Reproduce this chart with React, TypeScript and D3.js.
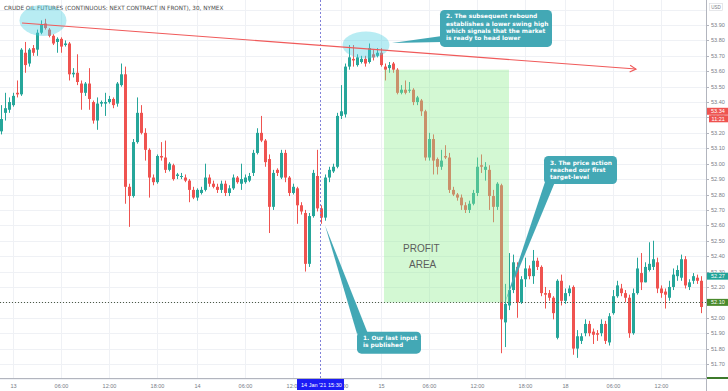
import React, { useEffect } from 'react';
import * as d3 from 'd3';

const W = 728;
const H = 391;

// 30-minute candles
const OPEN = [53.21,53.33,53.35,53.38,53.46,53.45,53.72,53.65,53.75,53.74,53.85,53.91,53.87,53.83,53.79,53.81,53.77,53.78,53.58,53.59,
53.52,53.46,53.52,53.40,53.28,53.39,53.39,53.40,53.42,53.39,53.51,53.58,52.85,52.79,53.14,53.33,53.20,53.09,52.91,52.88,
53.05,53.04,52.96,52.99,52.92,52.92,52.91,52.89,52.83,52.78,52.81,52.83,52.91,52.87,52.85,52.83,52.87,52.81,52.84,52.91,
52.87,52.88,52.89,52.94,53.07,53.20,53.15,53.03,52.72,52.96,52.91,53.07,52.91,52.81,52.84,52.73,52.68,52.35,52.66,52.92,
52.71,52.65,52.91,52.95,52.98,53.31,53.32,53.63,53.68,53.64,53.66,53.68,53.66,53.71,53.70,53.72,53.63,53.62,53.65,53.61,
53.46,53.48,53.48,53.48,53.40,53.41,53.34,53.04,53.16,53.03,52.98,53.05,53.04,52.83,52.80,52.78,52.73,52.70,52.74,52.81,
52.99,52.96,52.96,52.79,52.72,52.86,51.97,52.08,52.18,52.33,52.10,52.25,52.32,52.27,52.37,52.33,52.16,52.16,52.13,51.87,
52.24,52.11,52.16,52.20,51.80,51.85,51.90,51.96,51.91,51.90,51.90,51.96,51.84,52.03,52.14,52.19,52.16,52.13,51.90,52.16,
52.29,52.23,52.31,52.33,52.36,52.19,52.17,52.13,52.20,52.27,52.26,52.38,52.20,52.24,52.26,52.24];
const HIGH = [53.38,53.46,53.43,53.46,53.54,53.75,53.79,53.75,53.77,53.87,53.93,53.94,53.88,53.84,53.82,53.82,53.80,53.79,53.62,53.71,
53.54,53.53,53.62,53.41,53.43,53.41,53.46,53.44,53.43,53.53,53.65,53.63,52.87,53.16,53.43,53.38,53.23,53.10,52.93,53.06,
53.14,53.15,53.01,53.00,52.94,52.94,52.93,52.90,52.85,52.84,52.85,53.00,52.93,52.89,52.87,52.89,52.89,52.86,52.93,52.92,
53.00,52.93,52.94,53.09,53.23,53.31,53.16,53.06,52.96,52.97,53.09,53.09,52.92,52.87,52.85,52.75,52.70,52.68,52.96,53.09,
52.73,52.93,52.98,53.00,53.33,53.51,53.65,53.77,53.77,53.71,53.70,53.70,53.78,53.74,53.75,53.75,53.65,53.66,53.66,53.62,
53.51,53.54,53.53,53.49,53.44,53.42,53.35,53.20,53.19,53.04,53.09,53.12,53.07,52.85,52.81,52.80,52.75,52.76,52.83,53.04,
53.06,53.01,52.99,52.83,52.88,52.87,52.22,52.42,52.41,52.36,52.27,52.39,52.34,52.44,52.39,52.34,52.20,52.18,52.14,52.25,
52.28,52.19,52.21,52.21,51.92,51.90,51.99,51.98,51.93,51.92,51.99,51.98,52.03,52.18,52.24,52.22,52.18,52.15,52.19,52.39,
52.42,52.36,52.49,52.50,52.39,52.21,52.19,52.24,52.32,52.34,52.41,52.40,52.25,52.29,52.28,52.27];
const LOW = [53.19,53.28,53.33,53.37,53.43,53.44,53.59,53.63,53.70,53.70,53.84,53.87,53.82,53.77,53.72,53.72,53.76,53.54,53.56,53.51,
53.35,53.44,53.35,53.26,53.22,53.37,53.31,53.39,53.36,53.37,53.50,52.74,52.59,52.78,53.13,53.19,53.02,52.78,52.86,52.87,
53.02,52.94,52.95,52.89,52.90,52.90,52.88,52.75,52.77,52.76,52.80,52.82,52.85,52.84,52.81,52.81,52.79,52.79,52.83,52.87,
52.83,52.87,52.88,52.92,53.06,53.14,52.98,52.55,52.70,52.92,52.90,52.88,52.79,52.80,52.61,52.67,52.30,52.33,52.65,52.69,
52.61,52.63,52.88,52.94,52.97,53.29,53.30,53.61,53.63,53.63,53.65,53.63,53.65,53.67,53.69,53.63,53.54,53.59,53.59,53.45,
53.45,53.45,53.46,53.38,53.38,53.31,53.02,53.02,52.93,52.93,52.96,53.03,52.81,52.79,52.76,52.70,52.68,52.68,52.73,52.79,
52.94,52.89,52.70,52.62,52.70,51.77,51.81,52.05,52.16,52.00,52.09,52.20,52.25,52.22,52.31,52.14,52.06,52.11,51.99,51.86,
52.08,52.09,52.14,51.76,51.74,51.83,51.88,51.88,51.83,51.85,51.88,51.83,51.82,52.02,52.13,52.14,52.10,51.87,51.89,52.15,
52.18,52.23,52.30,52.31,52.16,52.13,52.06,52.11,52.18,52.24,52.24,52.19,52.18,52.22,52.22,52.03];
const CLOSE = [53.29,53.36,53.40,53.44,53.45,53.74,53.64,53.74,53.72,53.85,53.90,53.88,53.83,53.78,53.81,53.76,53.78,53.58,53.59,53.53,
53.46,53.52,53.42,53.28,53.39,53.40,53.40,53.42,53.38,53.52,53.58,52.85,52.79,53.14,53.33,53.20,53.09,52.91,52.88,53.05,
53.04,52.96,53.00,52.90,52.93,52.92,52.89,52.83,52.78,52.83,52.83,52.91,52.87,52.85,52.83,52.87,52.81,52.84,52.91,52.88,
52.90,52.91,52.92,53.07,53.20,53.15,53.01,52.72,52.94,52.94,53.07,52.91,52.81,52.85,52.73,52.69,52.35,52.66,52.94,52.71,
52.65,52.91,52.96,52.98,53.31,53.34,53.63,53.69,53.67,53.69,53.68,53.65,53.75,53.69,53.72,53.64,53.61,53.64,53.61,53.46,
53.48,53.46,53.48,53.40,53.43,53.34,53.04,53.16,53.02,52.98,53.02,53.04,52.83,52.80,52.78,52.73,52.70,52.74,52.81,52.98,
52.98,52.98,52.79,52.72,52.87,51.99,52.09,52.18,52.36,52.10,52.25,52.32,52.27,52.37,52.33,52.16,52.15,52.13,52.03,52.24,
52.11,52.16,52.19,51.80,51.88,51.88,51.96,51.90,51.89,51.89,51.96,51.85,52.01,52.14,52.21,52.16,52.13,51.90,52.16,52.32,
52.23,52.33,52.35,52.38,52.19,52.16,52.15,52.20,52.28,52.31,52.38,52.21,52.23,52.27,52.24,52.07];

const PRICE_TICKS = [51.7,51.8,51.9,52.0,52.1,52.2,52.3,52.4,52.5,52.6,52.7,52.8,52.9,53.0,53.1,53.2,53.3,53.4,53.5,53.6,53.7,53.8,53.9];
const GRID_PRICES = [51.6,51.7,51.8,51.9,52.0,52.1,52.2,52.3,52.4,52.5,52.6,52.7,52.8,52.9,53.0,53.1,53.2,53.3,53.4,53.5,53.6,53.7,53.8,53.9,54.0];
const TIME_TICK_INDEX = [3,15,27,39,49,61,73,85,95,107,119,131,141,153,165];
const TIME_TICK_LABELS = ['13','06:00','12:00','18:00','14','06:00','12:00','18:00','15','06:00','12:00','18:00','18','06:00','12:00'];

const TITLE = 'CRUDE OIL FUTURES (CONTINUOUS: NEXT CONTRACT IN FRONT), 30, NYMEX';
const LAST_OTHER = 53.34;
const COUNTDOWN = '11:21';
const TEAL_LEVEL = 52.27;
const LAST_PRICE = 52.10;
const CROSS_INDEX = 79.75;
const CROSS_LABEL_DATE = "14 Jan '21";
const CROSS_LABEL_TIME = '15:30';

const TREND = [{ i: 5.25, p: 53.913 }, { i: 158.75, p: 53.614 }];
const PROFIT = { i0: 95.75, i1: 127, p0: 53.61, p1: 52.10 };
const ELLIPSES = [{ i: 10.5, p: 53.93 }, { i: 91.25, p: 53.77 }];

const CALLOUT1 = ['1. Our last input', 'is published'];
const CALLOUT2 = ['2. The subsequent rebound', 'establishes a lower swing high', 'which signals that the market', 'is ready to head lower'];
const CALLOUT3 = ['3. The price action', 'reached our first', 'target-level'];

const GREEN = '#26a69a';
const RED = '#ef5350';
const CALLOUT_FILL = '#43a8b5';
const AX_FONT = '"Liberation Sans", Arial, sans-serif';
const TXT_FONT = '"DejaVu Sans", Verdana, sans-serif';

export default function App() {
  useEffect(() => {
    document.body.style.margin = '0';
  }, []);

  const x = d3.scaleLinear().domain([0, 175]).range([1, 701]);
  const y = d3.scaleLinear().domain([51.7, 53.9]).range([364, 25]);
  const plotRight = 706;
  const plotBottom = 378;

  const candles = OPEN.map((o, i) => ({ o, h: HIGH[i], l: LOW[i], c: CLOSE[i], i }));

  const callout = (lines: string[], bx: number, by: number, bw: number, bh: number, tip: [number, number], base: [number, number][], key: string) => {
    const pts = [tip, ...base].map((p) => p.join(',')).join(' ');
    return (
      <g key={key}>
        <polygon points={pts} fill={CALLOUT_FILL} />
        <rect x={bx} y={by} width={bw} height={bh} rx={4.5} fill={CALLOUT_FILL} />
        {lines.map((t, k) => (
          <text key={k} x={bx + 6} y={by + 8.6 + k * 7.2} fontFamily={TXT_FONT} fontWeight="bold" fontSize={5.9} fill="#ffffff">
            {t}
          </text>
        ))}
      </g>
    );
  };

  const c1x = x(89), c1y = y(51.91);
  const c2x = x(109.75), c2y = y(53.998);
  const c3x = x(135.75), c3y = y(53.05);

  const tx1 = x(TREND[0].i), ty1 = y(TREND[0].p), tx2 = x(TREND[1].i), ty2 = y(TREND[1].p);
  const ang = Math.atan2(ty2 - ty1, tx2 - tx1);
  const ah = 7;
  const a1: [number, number] = [tx2 - ah * Math.cos(ang - 0.5), ty2 - ah * Math.sin(ang - 0.5)];
  const a2: [number, number] = [tx2 - ah * Math.cos(ang + 0.5), ty2 - ah * Math.sin(ang + 0.5)];

  return (
    <svg width={W} height={H} style={{ position: 'absolute', left: 0, top: 0, display: 'block', background: '#ffffff' }}>
      {/* grid */}
      {GRID_PRICES.map((p) => (
        <line key={'g' + p} x1={0} x2={plotRight} y1={Math.round(y(p)) + 0.5} y2={Math.round(y(p)) + 0.5} stroke="#eff1f5" strokeWidth={1} />
      ))}
      {TIME_TICK_INDEX.map((ti) => (
        <line key={'v' + ti} x1={x(ti) + 0.5} x2={x(ti) + 0.5} y1={0} y2={plotBottom} stroke="#eff1f5" strokeWidth={1} />
      ))}

      {/* title */}
      <text x={4} y={10} fontFamily={TXT_FONT} fontSize={5.7} fill="#4a4a4a">{TITLE}</text>

      {/* candles */}
      {candles.map((d) => {
        const col = d.c >= d.o ? GREEN : RED;
        const cx = x(d.i);
        const top = y(Math.max(d.o, d.c));
        const bot = y(Math.min(d.o, d.c));
        return (
          <g key={'c' + d.i}>
            <rect x={cx} y={y(d.h)} width={1} height={Math.max(1, y(d.l) - y(d.h))} fill={col} />
            <rect x={cx - 1} y={top} width={3} height={Math.max(1, bot - top)} fill={col} />
          </g>
        );
      })}

      {/* crosshair */}
      <line x1={x(CROSS_INDEX) + 0.5} x2={x(CROSS_INDEX) + 0.5} y1={0} y2={plotBottom} stroke="#8080d8" strokeWidth={1} strokeDasharray="2,2" />

      {/* last price dotted line */}
      <line x1={0} x2={plotRight} y1={Math.round(y(LAST_PRICE)) + 0.5} y2={Math.round(y(LAST_PRICE)) + 0.5} stroke="#4d5a45" strokeWidth={1} strokeDasharray="1,2" />

      {/* profit area */}
      <rect x={x(PROFIT.i0)} y={y(PROFIT.p0)} width={x(PROFIT.i1) - x(PROFIT.i0)} height={y(PROFIT.p1) - y(PROFIT.p0)} fill="rgb(144,238,144)" fillOpacity={0.4} />
      <text x={403} y={252} fontFamily={AX_FONT} fontSize={10} fill="#5c5c5c">PROFIT</text>
      <text x={409} y={268} fontFamily={AX_FONT} fontSize={10} fill="#5c5c5c">AREA</text>

      {/* ellipses */}
      {ELLIPSES.map((e, k) => (
        <ellipse key={'e' + k} cx={x(e.i)} cy={y(e.p)} rx={23.5} ry={k === 0 ? 15.5 : 13.5} fill="#4dd0e1" fillOpacity={0.4} />
      ))}

      {/* trend line */}
      <line x1={tx1} y1={ty1} x2={tx2} y2={ty2} stroke="#f05a5a" strokeWidth={1.1} />
      <polyline points={`${a1.join(',')} ${tx2},${ty2} ${a2.join(',')}`} fill="none" stroke="#f05a5a" strokeWidth={1.1} />

      {/* callouts */}
      {callout(CALLOUT1, c1x, c1y, 64, 22, [x(81), y(52.60)], [[c1x + 11, c1y + 2], [c1x + 0, c1y + 2]], 'k1')}
      {callout(CALLOUT2, c2x, c2y, 112, 37, [x(97.75), y(53.783)], [[c2x + 2, c2y + 26], [c2x + 2, c2y + 32]], 'k2')}
      {callout(CALLOUT3, c3x, c3y, 73, 28, [x(126), y(52.10)], [[c3x + 1, c3y + 26], [c3x + 11, c3y + 26]], 'k3')}

      {/* axes */}
      <line x1={0} x2={plotRight} y1={plotBottom + 0.5} y2={plotBottom + 0.5} stroke="#b2b5be" strokeWidth={1} />
      <line x1={plotRight + 0.5} x2={plotRight + 0.5} y1={0} y2={H} stroke="#b2b5be" strokeWidth={1} />
      <line x1={707} x2={728} y1={378} y2={378} stroke="#3d7a2b" strokeWidth={2} />

      {PRICE_TICKS.map((p) => (
        <g key={'pt' + p}>
          <line x1={plotRight} x2={plotRight + 3} y1={Math.round(y(p)) + 0.5} y2={Math.round(y(p)) + 0.5} stroke="#b2b5be" />
          <text x={711} y={y(p) + 2} fontFamily={AX_FONT} fontSize={5.5} fill="#787b86">{p.toFixed(2)}</text>
        </g>
      ))}

      {/* USD */}
      <rect x={709.5} y={3.5} width={13} height={7} fill="#ffffff" stroke="#d5d7dd" strokeWidth={0.6} />
      <text x={716} y={8.8} textAnchor="middle" fontFamily={AX_FONT} fontSize={4.5} fill="#787b86">USD</text>

      {/* price labels */}
      <rect x={707} y={y(LAST_OTHER) - 3.5} width={21} height={7} fill={RED} />
      <text x={711} y={y(LAST_OTHER) + 2} fontFamily={AX_FONT} fontSize={5.5} fill="#ffffff">{LAST_OTHER.toFixed(2)}</text>
      <rect x={709} y={y(LAST_OTHER) + 4} width={19} height={7} fill={RED} />
      <text x={711.5} y={y(LAST_OTHER) + 9.5} fontFamily={AX_FONT} fontSize={5.5} fill="#ffffff">{COUNTDOWN}</text>

      <rect x={707} y={y(TEAL_LEVEL) - 3.5} width={21} height={7} fill="#22a398" />
      <text x={711} y={y(TEAL_LEVEL) + 2} fontFamily={AX_FONT} fontSize={5.5} fill="#ffffff">{TEAL_LEVEL.toFixed(2)}</text>

      <rect x={707} y={y(LAST_PRICE) - 3.5} width={21} height={7} fill="#4a8a2c" />
      <text x={711} y={y(LAST_PRICE) + 2} fontFamily={AX_FONT} fontSize={5.5} fill="#ffffff">{LAST_PRICE.toFixed(2)}</text>

      {/* time labels */}
      {TIME_TICK_INDEX.map((ti, k) => (
        <text key={'tl' + k} x={x(ti) + 0.5} y={388} textAnchor="middle" fontFamily={AX_FONT} fontSize={5.5} fill="#787b86">
          {TIME_TICK_LABELS[k]}
        </text>
      ))}

      {/* crosshair label */}
      <rect x={x(CROSS_INDEX) - 23} y={379} width={47} height={11} fill="#1c1cf5" />
      <text x={x(CROSS_INDEX) - 19} y={386.5} fontFamily={AX_FONT} fontSize={5.5} fill="#ffffff">{CROSS_LABEL_DATE}</text>
      <text x={x(CROSS_INDEX) + 8} y={386.5} fontFamily={AX_FONT} fontSize={5.5} fill="#ffffff">{CROSS_LABEL_TIME}</text>
    </svg>
  );
}
